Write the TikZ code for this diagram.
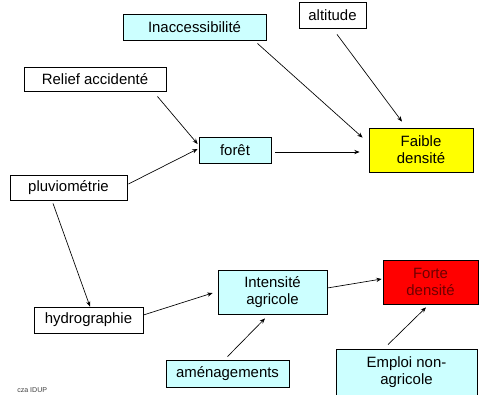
\documentclass[tikz,border=0pt]{standalone}
\usepackage{fontspec}
\setmainfont{Liberation Sans}
\usetikzlibrary{calc,arrows.meta,shadows}
\definecolor{boxcyan}{RGB}{204,255,255}
\definecolor{boxyellow}{RGB}{255,255,0}
\definecolor{boxred}{RGB}{255,0,0}
\definecolor{fortetext}{RGB}{110,0,0}
\begin{document}
\begin{tikzpicture}[x=0.75pt,y=-0.75pt,
  box/.style={draw=black, line width=0.6pt, inner sep=0pt, align=center,
    font=\fontsize{11.2}{12.75}\selectfont,
    drop shadow={shadow xshift=0.9pt, shadow yshift=-0.9pt, fill=black!45, opacity=1}},
  cyanbox/.style={box, fill=boxcyan},
  whitebox/.style={box, fill=white},
  arr/.style={draw=black, line width=0.5pt, -{Stealth[length=4pt,width=3.2pt]}}]
\useasboundingbox (0,0) rectangle (479,394);
% nodes
\node[cyanbox, minimum width=107.25pt, minimum height=19.5pt] (inacc) at (194.5,27) {Inaccessibilité};
\node[whitebox, minimum width=50.25pt, minimum height=19.5pt] (alt) at (332.5,15) {altitude};
\node[whitebox, minimum width=106.5pt, minimum height=18pt] (relief) at (95,79) {Relief accidenté};
\node[cyanbox, minimum width=54pt, minimum height=19.5pt] (foret) at (235,150) {forêt};
\node[box, fill=boxyellow, minimum width=78pt, minimum height=33pt] (faible) at (421,150) {Faible\\densité};
\node[whitebox, minimum width=87.75pt, minimum height=18.75pt] (pluvio) at (68.5,187.5) {pluviométrie};
\node[whitebox, minimum width=81.75pt, minimum height=19.5pt] (hydro) at (88.5,320) {hydrographie};
\node[cyanbox, minimum width=81.75pt, minimum height=33pt] (intens) at (272.5,292) {Intensité\\agricole};
\node[box, fill=boxred, text=fortetext, minimum width=71.25pt, minimum height=33pt] (forte) at (430.5,282) {Forte\\densité};
\node[cyanbox, minimum width=92.25pt, minimum height=20.25pt] (amen) at (227.5,373.5) {aménagements};
\node[cyanbox, minimum width=105.75pt, minimum height=34.5pt] (emploi) at (406.5,372) {Emploi non-\\agricole};
\node[anchor=base west, inner sep=0pt, text=black!75, font=\fontsize{5.3}{6}\selectfont] (cza) at (17,392) {cza IDUP};
% connectors
\draw[arr] ($(inacc.south east)+(-9,3)$) -- ($(faible.north west)+(-6,10)$);
\draw[arr] ($(alt.south)+(4.5,6)$) -- ($(faible.north)+(-19,-6)$);
\draw[arr] ($(relief.south east)+(-9,5)$) -- ($(foret.west)+(-1,-6)$);
\draw[arr] ($(pluvio.east)+(1,-3.5)$) -- ($(foret.west)+(-1,-1)$);
\draw[arr] ($(foret.east)+(4,2)$) -- ($(faible.west)+(-9,2)$);
\draw[arr] ($(pluvio.south)+(-15.5,3)$) -- ($(hydro.north)+(1.5,0)$);
\draw[arr] ($(hydro.east)+(0,-5)$) -- ($(intens.west)+(-5,1)$);
\draw[arr] ($(intens.east)+(0,-4)$) -- ($(forte.west)+(-1,-3)$);
\draw[arr] ($(amen.north)+(0,-3)$) -- ($(intens.south)+(-7.5,4)$);
\draw[arr] ($(emploi.north)+(-18.5,-4)$) -- ($(forte.south)+(-4.5,3)$);
\end{tikzpicture}
\end{document}
